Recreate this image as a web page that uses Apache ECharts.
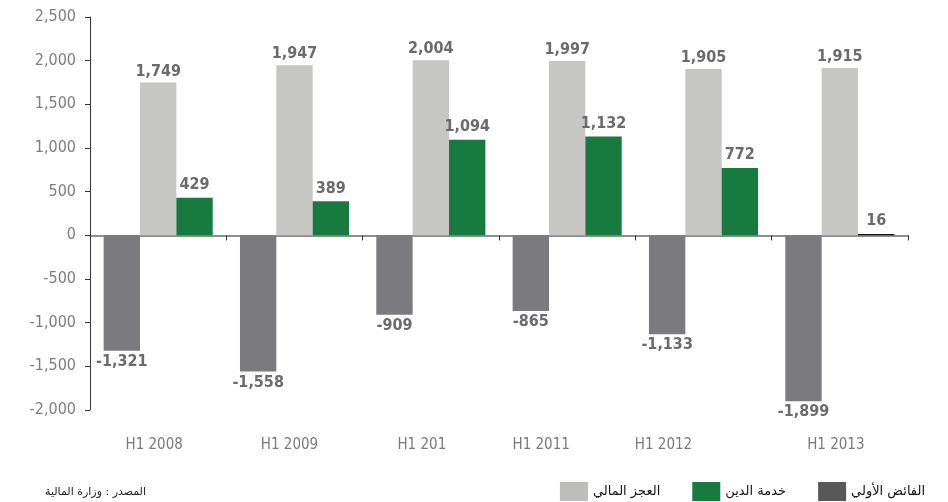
<!DOCTYPE html>
<html>
<head>
<meta charset="utf-8">
<script src="https://cdn.jsdelivr.net/npm/echarts@6/dist/echarts.min.js"></script>
<style>
  html, body { margin: 0; padding: 0; background: #fff; }
  #chart { width: 948px; height: 502px; }
</style>
</head>
<body>
<div id="chart"></div>
<script>
// الفترات
var categories = ['H1 2008', 'H1 2009', 'H1 201', 'H1 2011', 'H1 2012', 'H1 2013'];
// الفائض الأولي
var primarySurplus = [-1321, -1558, -909, -865, -1133, -1899];
// العجز المالي
var fiscalDeficit = [1749, 1947, 2004, 1997, 1905, 1915];
// خدمة الدين
var debtService = [429, 389, 1094, 1132, 772, 16];
// محور القيم
var yTicks = { min: -2000, max: 2500, interval: 500 };

var names = ['الفائض الأولي', 'العجز المالي', 'خدمة الدين'];
var narrow = "'Liberation Sans Narrow', 'DejaVu Sans Condensed', sans-serif";

// إزاحة تسميات الفترات إلى اليسار (بكسل) كما في الأصل
var labelShift = [4, 5, 9, 26, 40, 4];

function fmt(v) {
  return Number(v).toLocaleString('en-US');
}

var catRich = {};
labelShift.forEach(function (s, i) {
  catRich['c' + i] = {
    fontFamily: narrow,
    fontSize: 15,
    color: '#7a7a7a',
    padding: [0, s * 2, 0, 0]
  };
});

var valueLabel = {
  show: true,
  fontFamily: narrow,
  fontWeight: 'bold',
  fontSize: 16,
  color: '#6b6b6e',
  formatter: function (p) { return fmt(p.value); }
};

var myChart = echarts.init(document.getElementById('chart'));

var option = {
  animation: false,
  title: {
    text: 'المصدر : وزارة المالية',
    left: 40,
    top: 482,
    textStyle: { fontFamily: 'DejaVu Sans', fontSize: 11, fontWeight: 'normal', color: '#222' }
  },
  legend: {
    right: 18,
    top: 477,
    icon: 'rect',
    itemWidth: 28,
    itemHeight: 19,
    itemGap: 32,
    textStyle: { fontFamily: 'DejaVu Sans', fontSize: 13, color: '#111' },
    data: [
      { name: names[1], itemStyle: { color: '#bdbdbb' } },
      { name: names[2], itemStyle: { color: '#177a3e' } },
      { name: names[0], itemStyle: { color: '#58585a' } }
    ]
  },
  grid: { left: 90, right: 40, top: 17, bottom: 92, containLabel: false, outerBoundsMode: 'none' },
  xAxis: [
    {
      // خط الصفر
      type: 'category',
      data: categories,
      axisLine: { onZero: true, lineStyle: { color: '#6b6b6b', width: 1.5 } },
      axisTick: { show: true, length: 5, lineStyle: { color: '#333' } },
      axisLabel: { show: false }
    },
    {
      // تسميات الفترات أسفل الرسم
      type: 'category',
      data: categories,
      position: 'bottom',
      axisLine: { show: false, onZero: false },
      axisTick: { show: false },
      axisLabel: {
        margin: 28,
        fontFamily: narrow,
        fontSize: 15,
        color: '#7a7a7a',
        formatter: function (v, i) { return '{c' + i + '|' + v + '}'; },
        rich: catRich
      }
    }
  ],
  yAxis: {
    type: 'value',
    min: yTicks.min,
    max: yTicks.max,
    interval: yTicks.interval,
    splitLine: { show: false },
    axisLine: { show: true, lineStyle: { color: '#333' } },
    axisTick: { show: true, length: 5, lineStyle: { color: '#333' } },
    axisLabel: {
      margin: 14,
      fontFamily: narrow,
      fontSize: 16,
      color: '#7d7d7d',
      formatter: fmt
    }
  },
  series: [
    {
      name: names[0],
      type: 'bar',
      barGap: 0,
      barCategoryGap: '20%',
      itemStyle: { color: '#7b7b7f' },
      label: Object.assign({}, valueLabel, { position: 'bottom', distance: 3 }),
      data: primarySurplus
    },
    {
      name: names[1],
      type: 'bar',
      itemStyle: { color: '#c6c6c4' },
      label: Object.assign({}, valueLabel, { position: 'top', distance: 3 }),
      data: fiscalDeficit
    },
    {
      name: names[2],
      type: 'bar',
      itemStyle: { color: '#177a3e' },
      label: Object.assign({}, valueLabel, { position: 'top', distance: 5 }),
      data: debtService.map(function (v, i) {
        return i === debtService.length - 1 ? { value: v, itemStyle: { color: '#111' } } : v;
      })
    }
  ]
};

option && myChart.setOption(option);
</script>
</body>
</html>
